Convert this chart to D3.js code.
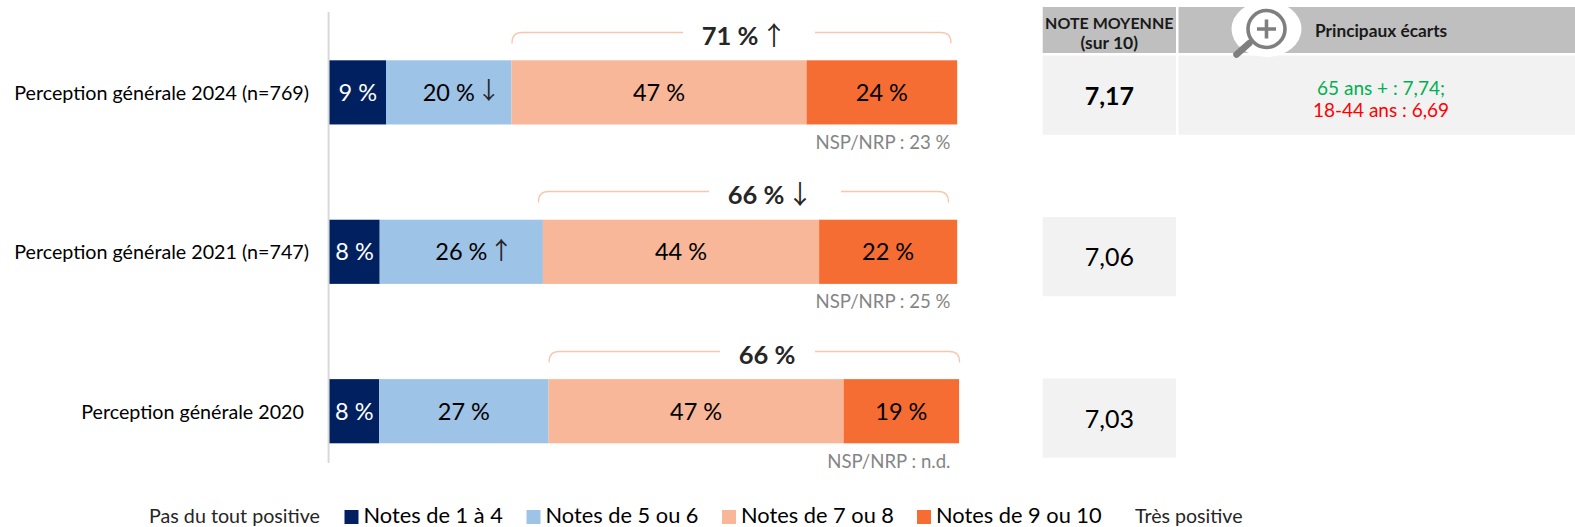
<!DOCTYPE html>
<html lang="fr">
<head>
    <meta charset="UTF-8">
    <title>Perception générale</title>
    <script src="https://d3js.org/d3.v7.min.js"></script>
    <style>
        html, body { margin: 0; padding: 0; background: #fff; overflow: hidden; }
        svg { display: block; }
        text { font-family: Lato, "Open Sans", sans-serif; }
        text.arrow { font-family: "Noto Sans CJK SC", "DejaVu Sans", sans-serif; }
    </style>
</head>
<body>
    <svg width="1575" height="527"></svg>
    <script>
        // Data
        const categories = ["Perception générale 2024 (n=769)", "Perception générale 2021 (n=747)", "Perception générale 2020\u00A0"];
        const seriesNames = ["Notes de 1 à 4", "Notes de 5 ou 6", "Notes de 7 ou 8", "Notes de 9 ou 10"];
        // bar lengths as drawn (the 2020 bar is not quite proportional to its rounded labels)
        const notes1to4 = [9, 8, 7.9];
        const notes5to6 = [20, 26, 27];
        const notes7to8 = [47, 44, 47];
        const notes9to10 = [24, 22, 18.4];
        const segmentLabels = [["9 %", "20 %", "47 %", "24 %"], ["8 %", "26 %", "44 %", "22 %"], ["8 %", "27 %", "47 %", "19 %"]];
        const segmentArrows = [[null, "↓", null, null], [null, "↑", null, null], [null, null, null, null]];
        const totals = ["71 %", "66 %", "66 %"];
        const totalArrows = ["↑", "↓", null];
        const nspLabels = ["NSP/NRP : 23 %", "NSP/NRP : 25 %", "NSP/NRP : n.d."];
        const meanNotes = ["7,17", "7,06", "7,03"];

        const colors = ["#002060", "#9DC3E6", "#F8B799", "#F56D32"];

        const svg = d3.select("svg");

        const x = d3.scaleLinear().domain([0, 100]).range([329.5, 957.2]);
        const y = d3.scaleBand().domain(categories).range([60.3, 443.3]).paddingInner(0.5975);
        const noteY = d3.scaleBand().domain(categories).range([55.5, 457.7]).paddingInner(0.509);

        const table = categories.map((c, i) => ({
            category: c, 0: notes1to4[i], 1: notes5to6[i], 2: notes7to8[i], 3: notes9to10[i]
        }));
        const stacked = d3.stack().keys([0, 1, 2, 3])(table);

        // Vertical rule and category labels
        svg.append("line")
            .attr("x1", 328.6).attr("x2", 328.6)
            .attr("y1", 12).attr("y2", 463)
            .attr("stroke", "#d9d9d9").attr("stroke-width", 2);

        const yAxis = svg.append("g")
            .attr("transform", "translate(309,1)")
            .call(d3.axisLeft(y).tickSize(0).tickPadding(0));
        yAxis.select(".domain").remove();
        yAxis.selectAll("text")
            .attr("font-size", 19.7)
            .attr("fill", "#000")
            .style("font-family", "Lato");

        // Stacked bars
        const layer = svg.append("g").selectAll("g")
            .data(stacked)
            .enter().append("g")
            .attr("fill", (d, i) => colors[i]);

        layer.selectAll("rect")
            .data(d => d)
            .enter().append("rect")
            .attr("x", d => x(d[0]))
            .attr("y", d => y(d.data.category))
            .attr("width", d => x(d[1]) - x(d[0]))
            .attr("height", y.bandwidth());

        // Segment labels
        stacked.forEach((s, k) => {
            s.forEach((d, i) => {
                const cx = (x(d[0]) + x(d[1])) / 2;
                const cy = y(d.data.category) + y.bandwidth() / 2;
                svg.append("text")
                    .attr("x", cx).attr("y", cy + 8.5)
                    .attr("text-anchor", "middle")
                    .attr("font-size", 23.5)
                    .attr("fill", k === 0 ? "#fff" : "#000")
                    .text(segmentLabels[i][k]);
                if (segmentArrows[i][k]) {
                    svg.append("text")
                        .attr("class", "arrow")
                        .attr("x", cx + 40).attr("y", cy + 7)
                        .attr("text-anchor", "middle")
                        .attr("font-size", 24)
                        .attr("fill", "#262626")
                        .text(segmentArrows[i][k]);
                }
            });
        });

        // Brackets above the two upper segments
        const bracketLayout = [
            { x1: x(29) + 0.5, x2: x(99), top: 32.5, gap: [683, 815], textX: 730, arrowX: 774 },
            { x1: x(33.3), x2: x(98.6), top: 191.5, gap: [709, 841], textX: 756, arrowX: 800 },
            { x1: x(35), x2: 959.5, top: 351.5, gap: [720, 815], textX: 767, arrowX: null }
        ];
        bracketLayout.forEach((b, i) => {
            const r = 10, h = 11;
            const peach = "#F8C6AE";
            svg.append("path")
                .attr("d", `M${b.x1},${b.top + h} V${b.top + r} Q${b.x1},${b.top} ${b.x1 + r},${b.top} H${b.gap[0]}`
                    + ` M${b.gap[1]},${b.top} H${b.x2 - r} Q${b.x2},${b.top} ${b.x2},${b.top + r} V${b.top + h}`)
                .attr("fill", "none")
                .attr("stroke", peach)
                .attr("stroke-width", 1.3);
            svg.append("text")
                .attr("x", b.textX).attr("y", b.top + 12)
                .attr("text-anchor", "middle")
                .attr("font-size", 25.5)
                .attr("font-weight", 700)
                .attr("fill", "#262626")
                .text(totals[i]);
            if (totalArrows[i]) {
                svg.append("text")
                    .attr("class", "arrow")
                    .attr("x", b.arrowX).attr("y", b.top + 12)
                    .attr("text-anchor", "middle")
                    .attr("font-size", 26)
                    .attr("fill", "#262626")
                    .text(totalArrows[i]);
            }
        });

        // NSP/NRP notes
        svg.append("g").selectAll("text")
            .data(nspLabels)
            .enter().append("text")
            .attr("x", 950.5)
            .attr("y", (d, i) => y(categories[i]) + y.bandwidth() + 24.5)
            .attr("text-anchor", "end")
            .attr("font-size", 18.6)
            .attr("fill", "#858585")
            .text(d => d);

        // Right hand table
        const col1 = [1042.7, 1176], col2 = [1178.5, 1575];
        svg.append("rect").attr("x", col1[0]).attr("y", 7).attr("width", col1[1] - col1[0]).attr("height", 46).attr("fill", "#BFBFBF");
        svg.append("rect").attr("x", col2[0]).attr("y", 7).attr("width", col2[1] - col2[0]).attr("height", 46).attr("fill", "#BFBFBF");
        svg.append("rect").attr("x", col2[0]).attr("y", noteY(categories[0])).attr("width", col2[1] - col2[0]).attr("height", noteY.bandwidth()).attr("fill", "#F2F2F2");

        svg.append("g").selectAll("rect")
            .data(categories)
            .enter().append("rect")
            .attr("x", col1[0])
            .attr("y", d => noteY(d))
            .attr("width", col1[1] - col1[0])
            .attr("height", noteY.bandwidth())
            .attr("fill", "#F2F2F2");

        svg.append("g").selectAll("text")
            .data(meanNotes)
            .enter().append("text")
            .attr("x", (col1[0] + col1[1]) / 2)
            .attr("y", (d, i) => noteY(categories[i]) + noteY.bandwidth() / 2 + 9.7)
            .attr("text-anchor", "middle")
            .attr("font-size", 25)
            .attr("font-weight", (d, i) => i === 0 ? 700 : 400)
            .attr("fill", "#000")
            .text(d => d);

        const headerText = (t, tx, ty, anchor, size) => svg.append("text")
            .attr("x", tx).attr("y", ty)
            .attr("text-anchor", anchor)
            .attr("font-size", size)
            .attr("font-weight", 700)
            .attr("fill", "#1a1a1a")
            .text(t);
        headerText("NOTE MOYENNE", 1109.3, 28.5, "middle", 16);
        headerText("(sur 10)", 1109.3, 49, "middle", 17.5);
        headerText("Principaux écarts", 1315, 36.5, "start", 17.3);

        svg.append("text").attr("x", 1381).attr("y", 95).attr("text-anchor", "middle")
            .attr("font-size", 19).attr("fill", "#00B050").text("65 ans + : 7,74;");
        svg.append("text").attr("x", 1381).attr("y", 116.5).attr("text-anchor", "middle")
            .attr("font-size", 19).attr("fill", "#FF0000").text("18-44 ans : 6,69");

        // Magnifier icon
        const icon = svg.append("g").attr("transform", "translate(1266.5,29)");
        icon.append("ellipse").attr("rx", 35).attr("ry", 28).attr("fill", "#fff");
        icon.append("circle").attr("r", 18.5).attr("fill", "none").attr("stroke", "#7f7f7f").attr("stroke-width", 3.6);
        icon.append("path").attr("d", "M-9.5,0 H9.5 M0,-9.5 V9.5").attr("stroke", "#7f7f7f").attr("stroke-width", 3.6);
        icon.append("line").attr("x1", -17).attr("y1", 14).attr("x2", -30).attr("y2", 25.5)
            .attr("stroke", "#7f7f7f").attr("stroke-width", 6.5).attr("stroke-linecap", "round");

        // Legend
        const legendX = [344.5, 526.5, 722, 917];
        svg.append("text").attr("x", 149).attr("y", 523).attr("font-size", 19.7).attr("fill", "#262626").text("Pas du tout positive");
        svg.append("text").attr("x", 1135).attr("y", 523).attr("font-size", 19.6).attr("fill", "#262626").text("Très positive");

        const legend = svg.append("g").selectAll("g")
            .data(seriesNames)
            .enter().append("g")
            .attr("transform", (d, i) => `translate(${legendX[i]},510)`);
        legend.append("rect").attr("width", 14).attr("height", 14).attr("fill", (d, i) => colors[i]);
        legend.append("text").attr("x", 19).attr("y", 12.5).attr("font-size", 21.8).attr("fill", "#000").text(d => d);
    </script>
</body>
</html>
